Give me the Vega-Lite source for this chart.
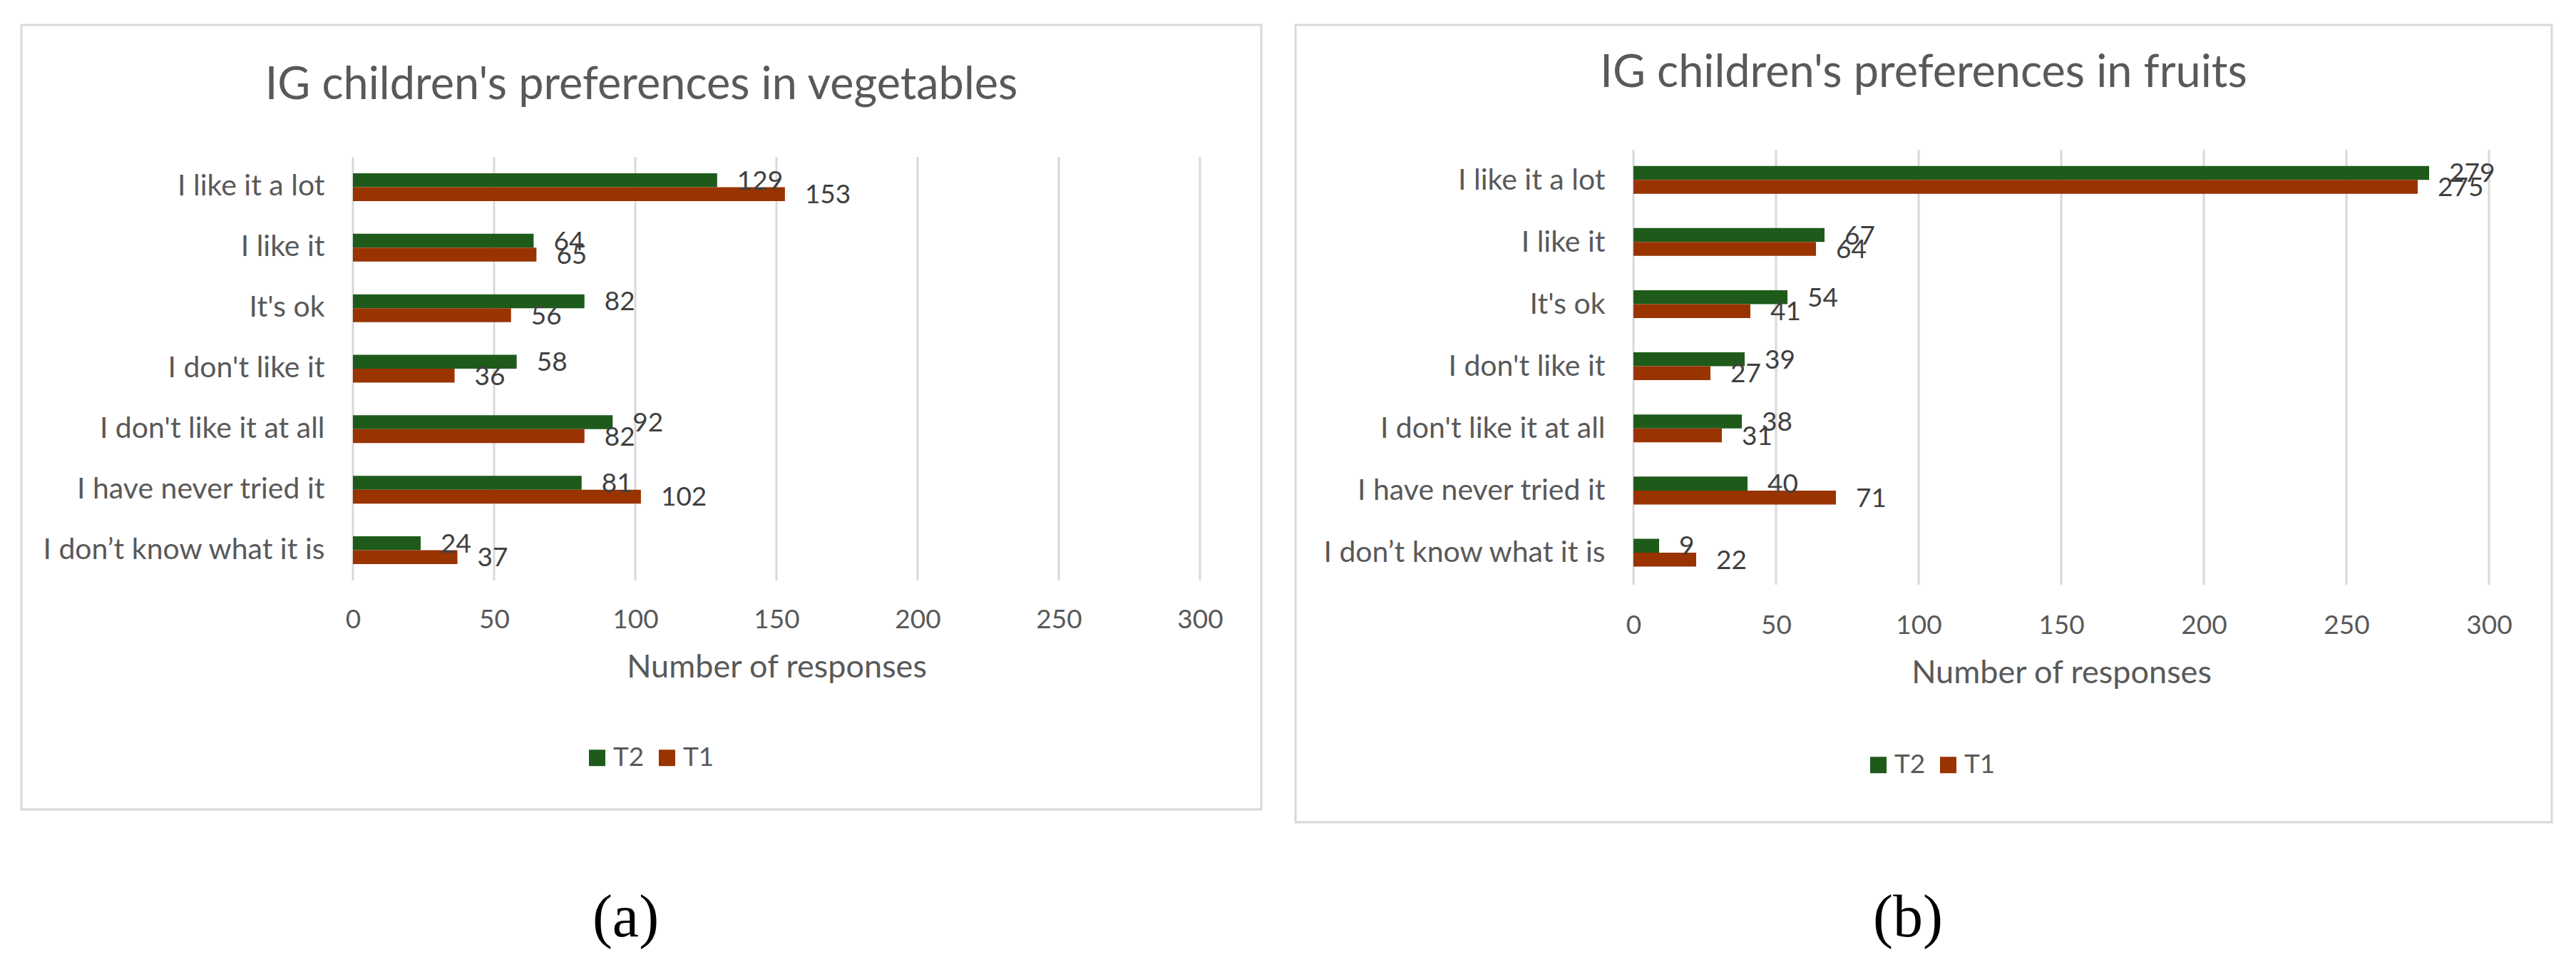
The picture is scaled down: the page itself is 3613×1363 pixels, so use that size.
{
  "$schema": "https://vega.github.io/schema/vega-lite/v6.json",
  "background": "white",
  "padding": {"left": 28, "top": 33, "right": 10, "bottom": 5},
  "datasets": {
    "ticks": [{"tick": 0}, {"tick": 50}, {"tick": 100}, {"tick": 150}, {"tick": 200}, {"tick": 250}, {"tick": 300}],
    "veg": [
      {"category": "I like it a lot", "series": "T2", "value": 129},
      {"category": "I like it a lot", "series": "T1", "value": 153},
      {"category": "I like it", "series": "T2", "value": 64},
      {"category": "I like it", "series": "T1", "value": 65},
      {"category": "It's ok", "series": "T2", "value": 82},
      {"category": "It's ok", "series": "T1", "value": 56},
      {"category": "I don't like it", "series": "T2", "value": 58},
      {"category": "I don't like it", "series": "T1", "value": 36},
      {"category": "I don't like it at all", "series": "T2", "value": 92},
      {"category": "I don't like it at all", "series": "T1", "value": 82},
      {"category": "I have never tried it", "series": "T2", "value": 81},
      {"category": "I have never tried it", "series": "T1", "value": 102},
      {"category": "I don’t know what it is", "series": "T2", "value": 24},
      {"category": "I don’t know what it is", "series": "T1", "value": 37}
    ],
    "fruit": [
      {"category": "I like it a lot", "series": "T2", "value": 279},
      {"category": "I like it a lot", "series": "T1", "value": 275},
      {"category": "I like it", "series": "T2", "value": 67},
      {"category": "I like it", "series": "T1", "value": 64},
      {"category": "It's ok", "series": "T2", "value": 54},
      {"category": "It's ok", "series": "T1", "value": 41},
      {"category": "I don't like it", "series": "T2", "value": 39},
      {"category": "I don't like it", "series": "T1", "value": 27},
      {"category": "I don't like it at all", "series": "T2", "value": 38},
      {"category": "I don't like it at all", "series": "T1", "value": 31},
      {"category": "I have never tried it", "series": "T2", "value": 40},
      {"category": "I have never tried it", "series": "T1", "value": 71},
      {"category": "I don’t know what it is", "series": "T2", "value": 9},
      {"category": "I don’t know what it is", "series": "T1", "value": 22}
    ]
  },
  "spacing": 44,
  "resolve": {"scale": {"color": "independent"}, "legend": {"color": "independent"}},
  "hconcat": [
    {
      "title": {"text": "(a)", "orient": "bottom", "offset": 176, "dx": -22, "baseline": "alphabetic", "font": "Liberation Serif", "fontSize": 84, "fontWeight": "normal", "color": "black", "anchor": "middle"},
      "vconcat": [
        {
          "width": 1739,
          "height": 1100,
          "title": {"text": "IG children's preferences in vegetables", "offset": -167, "baseline": "alphabetic"},
          "resolve": {"scale": {"y": "independent"}},
          "layer": [
            {
              "data": {"name": "ticks"},
              "mark": {"type": "rule", "color": "#d9d9d9", "strokeWidth": 3},
              "encoding": {
                "x": {"field": "tick", "type": "quantitative", "title": "Number of responses", "scale": {"domain": [0, 300], "range": [465, 1653], "nice": false}},
                "y": {"datum": 0, "type": "quantitative", "scale": {"domain": [0, 1], "range": [185, 779]}, "axis": null},
                "y2": {"datum": 1}
              }
            },
            {
              "data": {"name": "veg"},
              "encoding": {
                "y": {
                  "field": "category", "type": "nominal",
                  "sort": ["I like it a lot", "I like it", "It's ok", "I don't like it", "I don't like it at all", "I have never tried it", "I don’t know what it is"],
                  "scale": {"range": [185, 779], "paddingInner": 0.54, "paddingOuter": 0.27},
                  "axis": {"offset": -465, "labelPadding": 40, "labelFontSize": 41, "title": null}
                },
                "x": {
                  "field": "value", "type": "quantitative", "title": "Number of responses",
                  "scale": {"domain": [0, 300], "range": [465, 1653], "nice": false},
                  "axis": {"values": [0, 50, 100, 150, 200, 250, 300], "offset": -321, "labelPadding": 55, "labelBaseline": "middle", "labelFlush": false, "titleBaseline": "middle", "titleY": 121}
                },
                "yOffset": {"field": "series", "sort": ["T2", "T1"]}
              },
              "layer": [
                {
                  "mark": {"type": "bar"},
                  "encoding": {
                    "color": {
                      "field": "series", "type": "nominal",
                      "scale": {"domain": ["T2", "T1"], "range": ["#1e5b1b", "#993300"]},
                      "legend": {"orient": "none", "legendX": 789, "legendY": 1009, "direction": "horizontal", "title": null}
                    }
                  }
                },
                {
                  "mark": {"type": "text", "align": "left", "baseline": "middle", "dx": 28, "dy": 2, "font": "Lato", "fontSize": 37, "color": "#404040"},
                  "encoding": {"text": {"field": "value", "type": "quantitative"}}
                }
              ]
            }
          ]
        }
      ]
    },
    {
      "title": {"text": "(b)", "orient": "bottom", "offset": 158, "dx": -22, "baseline": "alphabetic", "font": "Liberation Serif", "fontSize": 84, "fontWeight": "normal", "color": "black", "anchor": "middle"},
      "vconcat": [
        {
          "width": 1762,
          "height": 1118,
          "title": {"text": "IG children's preferences in fruits", "offset": -150, "baseline": "alphabetic"},
          "resolve": {"scale": {"y": "independent"}},
          "layer": [
            {
              "data": {"name": "ticks"},
              "mark": {"type": "rule", "color": "#d9d9d9", "strokeWidth": 3},
              "encoding": {
                "x": {"field": "tick", "type": "quantitative", "title": "Number of responses", "scale": {"domain": [0, 300], "range": [474, 1674], "nice": false}},
                "y": {"datum": 0, "type": "quantitative", "scale": {"domain": [0, 1], "range": [175, 785]}, "axis": null},
                "y2": {"datum": 1}
              }
            },
            {
              "data": {"name": "fruit"},
              "encoding": {
                "y": {
                  "field": "category", "type": "nominal",
                  "sort": ["I like it a lot", "I like it", "It's ok", "I don't like it", "I don't like it at all", "I have never tried it", "I don’t know what it is"],
                  "scale": {"range": [175, 785], "paddingInner": 0.52, "paddingOuter": 0.26},
                  "axis": {"offset": -474, "labelPadding": 40, "labelFontSize": 41, "title": null}
                },
                "x": {
                  "field": "value", "type": "quantitative", "title": "Number of responses",
                  "scale": {"domain": [0, 300], "range": [474, 1674], "nice": false},
                  "axis": {"values": [0, 50, 100, 150, 200, 250, 300], "offset": -333, "labelPadding": 57, "labelBaseline": "middle", "labelFlush": false, "titleBaseline": "middle", "titleY": 123}
                },
                "yOffset": {"field": "series", "sort": ["T2", "T1"]}
              },
              "layer": [
                {
                  "mark": {"type": "bar"},
                  "encoding": {
                    "color": {
                      "field": "series", "type": "nominal",
                      "scale": {"domain": ["T2", "T1"], "range": ["#1e5b1b", "#993300"]},
                      "legend": {"orient": "none", "legendX": 799, "legendY": 1019, "direction": "horizontal", "title": null}
                    }
                  }
                },
                {
                  "mark": {"type": "text", "align": "left", "baseline": "middle", "dx": 28, "dy": 2, "font": "Lato", "fontSize": 37, "color": "#404040"},
                  "encoding": {"text": {"field": "value", "type": "quantitative"}}
                }
              ]
            }
          ]
        }
      ]
    }
  ],
  "config": {
    "font": "Lato",
    "view": {"stroke": "#d9d9d9", "strokeWidth": 3},
    "title": {"font": "Lato", "fontSize": 63, "fontWeight": "normal", "color": "#595959", "anchor": "middle"},
    "axis": {
      "labelFont": "Lato", "labelFontSize": 37, "labelColor": "#595959",
      "titleFont": "Lato", "titleFontSize": 45, "titleFontWeight": "normal", "titleColor": "#595959",
      "domain": false, "ticks": false, "grid": false, "labelLimit": 900
    },
    "legend": {
      "labelFont": "Lato", "labelFontSize": 37, "labelColor": "#595959",
      "symbolType": "square", "symbolSize": 529, "symbolStrokeWidth": 0,
      "labelOffset": 4, "columnPadding": 13
    }
  }
}
